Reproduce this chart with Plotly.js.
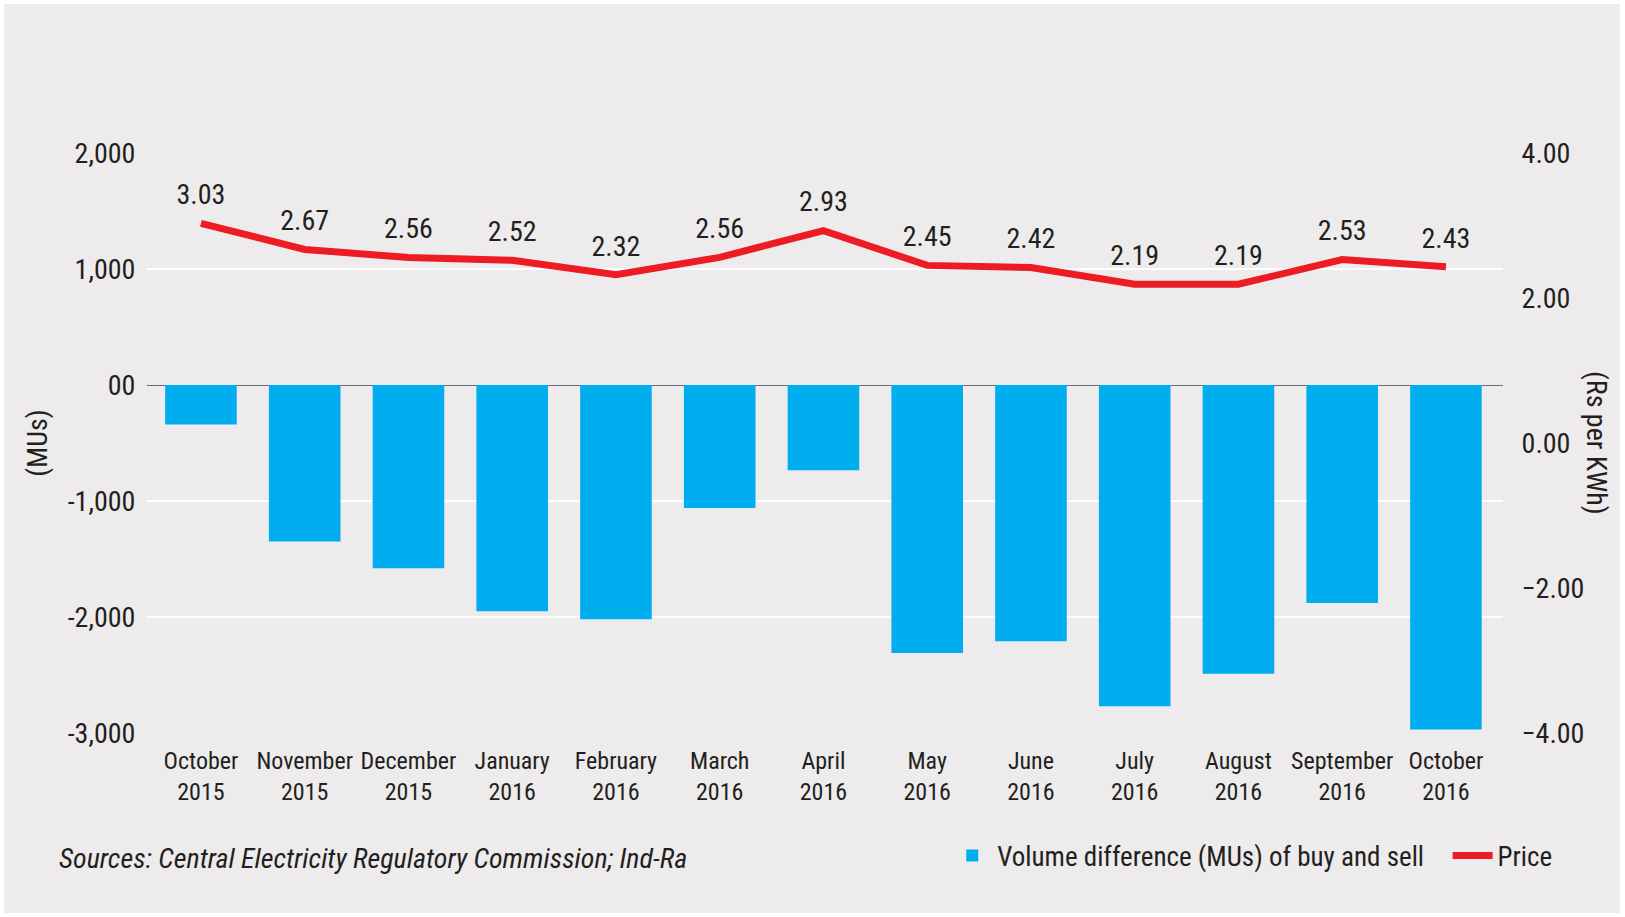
<html>
<head>
<script src="https://cdn.plot.ly/plotly-3.0.1.min.js"></script>
<style>
  body { margin: 0; background: #ffffff; }
  #chart { width: 1625px; height: 917px; }
</style>
</head>
<body>
<div id="chart"></div>
<script>
// months on the x axis, two lines per label
let months = ['October<br>2015', 'November<br>2015', 'December<br>2015', 'January<br>2016',
              'February<br>2016', 'March<br>2016', 'April<br>2016', 'May<br>2016',
              'June<br>2016', 'July<br>2016', 'August<br>2016', 'September<br>2016', 'October<br>2016'];

// volume difference of buy and sell (MUs)
let volumeDiff = [-340, -1350, -1580, -1950, -2020, -1060, -735, -2310, -2210, -2770, -2490, -1880, -2970];

// price (Rs per KWh), from the data labels
let price = [3.03, 2.67, 2.56, 2.52, 2.32, 2.56, 2.93, 2.45, 2.42, 2.19, 2.19, 2.53, 2.43];

// left axis ticks (the zero is printed as "00" in the original)
let leftTicks = [-3000, -2000, -1000, 0, 1000, 2000];
let leftTickText = ['-3,000', '-2,000', '-1,000', '00', '1,000', '2,000'];
let rightTicks = [-4, -2, 0, 2, 4];

let FONT = '"Liberation Sans Narrow", "Arial Narrow", "Roboto Condensed", "DejaVu Sans Condensed", sans-serif';
let INK = '#231f20';

let bars = {
  x: months,
  y: volumeDiff,
  type: 'bar',
  name: 'Volume difference (MUs) of buy and sell\u00a0\u00a0\u00a0',
  marker: { color: '#00aeef' },
  hoverinfo: 'skip'
};

let line = {
  x: months,
  y: price,
  yaxis: 'y2',
  type: 'scatter',
  mode: 'lines+markers+text',
  name: 'Price',
  line: { color: '#ed1c24', width: 7 },
  marker: { size: 18, color: 'rgba(0,0,0,0)' },
  text: price.map(p => p.toFixed(2)),
  textposition: 'top center',
  textfont: { family: FONT, size: 28, color: INK },
  cliponaxis: false,
  hoverinfo: 'skip'
};

let W = 1356, H = 580; // plot area size in px, used for paper coords
let layout = {
  width: 1625,
  height: 917,
  margin: { l: 147, r: 122, t: 153, b: 184 },
  paper_bgcolor: '#ffffff',
  plot_bgcolor: 'rgba(0,0,0,0)',
  font: { family: FONT, size: 28, color: INK },
  bargap: 0.31,
  showlegend: true,
  legend: {
    orientation: 'h',
    x: 1.04, xanchor: 'right',
    y: (733 - 856) / H, yanchor: 'middle',
    font: { family: FONT, size: 27, color: INK },
    bgcolor: 'rgba(0,0,0,0)',
    itemwidth: 40,
    traceorder: 'normal'
  },
  xaxis: {
    type: 'category',
    range: [-0.52, 12.55],
    showgrid: false,
    showline: false,
    zeroline: false,
    tickangle: 0,
    ticks: 'outside',
    ticklen: 6,
    tickcolor: 'rgba(0,0,0,0)',
    tickfont: { family: FONT, size: 24, color: INK }
  },
  yaxis: {
    range: [-3000, 2000],
    tickvals: leftTicks,
    ticktext: leftTickText,
    showgrid: true,
    gridcolor: '#ffffff',
    gridwidth: 2,
    zeroline: true,
    zerolinecolor: '#6d6e71',
    zerolinewidth: 1,
    ticks: 'outside',
    ticklen: 5,
    tickcolor: 'rgba(0,0,0,0)',
    tickfont: { family: FONT, size: 28, color: INK },
    title: { text: '(MUs)', font: { family: FONT, size: 28, color: INK }, standoff: 11 },
    fixedrange: true
  },
  yaxis2: {
    overlaying: 'y',
    side: 'right',
    range: [-4, 4],
    tickvals: rightTicks,
    tickformat: '.2f',
    showgrid: false,
    zeroline: false,
    ticks: 'outside',
    ticklen: 12,
    tickcolor: 'rgba(0,0,0,0)',
    tickfont: { family: FONT, size: 28, color: INK },
    fixedrange: true
  },
  shapes: [{
    type: 'rect', xref: 'paper', yref: 'paper', layer: 'below',
    x0: (4 - 147) / W, x1: (1620 - 147) / W,
    y0: (733 - 913) / H, y1: (733 - 4) / H,
    fillcolor: '#edebec', line: { width: 0 }
  }],
  annotations: [
    {
      // right axis title, reads top to bottom like the original
      text: '(Rs per KWh)', xref: 'paper', yref: 'paper',
      x: (1597 - 147) / W, xanchor: 'center', y: 0.5, yanchor: 'middle',
      textangle: 90, showarrow: false,
      font: { family: FONT, size: 28, color: INK }
    },
    {
      text: '<i>Sources: Central Electricity Regulatory Commission; Ind-Ra</i>',
      xref: 'paper', yref: 'paper',
      x: (57 - 147) / W, xanchor: 'left',
      y: (733 - 858) / H, yanchor: 'middle',
      showarrow: false,
      font: { family: FONT, size: 28, color: INK }
    }
  ]
};

Plotly.newPlot('chart', [bars, line], layout, { displayModeBar: false, staticPlot: true });
</script>
</body>
</html>
